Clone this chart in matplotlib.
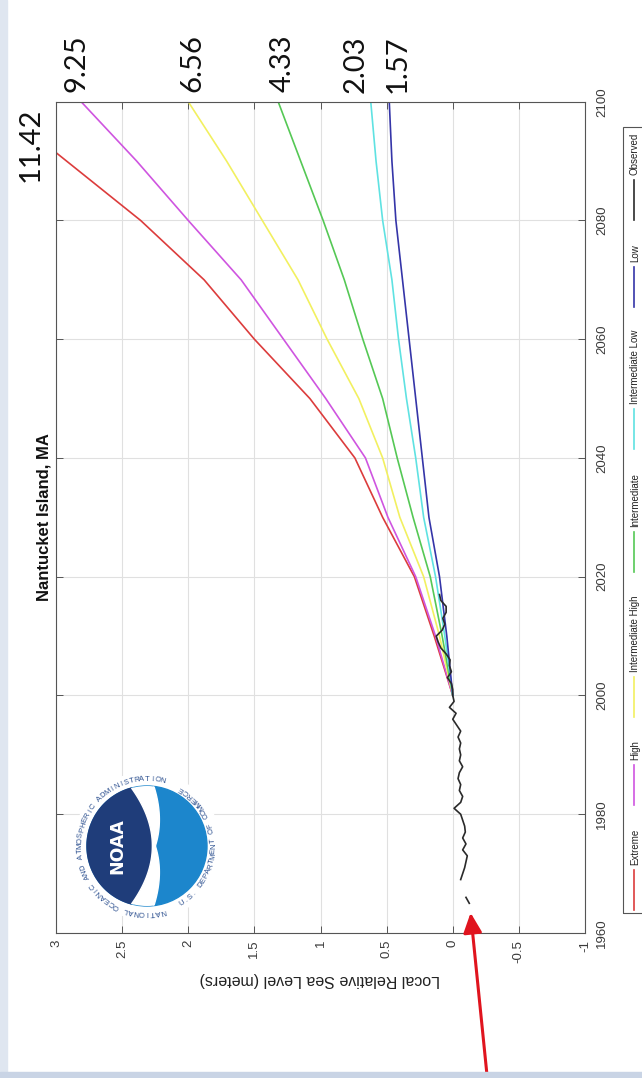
import numpy as np
import matplotlib
matplotlib.use('Agg')
import matplotlib.pyplot as plt
from matplotlib.patches import Rectangle, Circle, Polygon
from matplotlib.lines import Line2D

plt.rcParams['font.family'] = ['Liberation Sans', 'DejaVu Sans']

W, H = 642, 1078

# scenario projections, metres relative to 2000
years = [2000, 2010, 2020, 2030, 2040, 2050, 2060, 2070, 2080, 2090, 2100]
extreme = [0, 0.14, 0.29, 0.53, 0.74, 1.08, 1.50, 1.88, 2.36, 2.92, 3.48]
high = [0, 0.13, 0.28, 0.49, 0.66, 0.96, 1.28, 1.60, 2.00, 2.39, 2.81]
int_high = [0, 0.10, 0.22, 0.40, 0.53, 0.71, 0.95, 1.17, 1.44, 1.71, 2.00]
intermediate = [0, 0.08, 0.17, 0.30, 0.42, 0.53, 0.68, 0.82, 0.98, 1.15, 1.32]
int_low = [0, 0.06, 0.13, 0.22, 0.28, 0.35, 0.41, 0.46, 0.53, 0.58, 0.62]
low = [0, 0.045, 0.10, 0.18, 0.23, 0.28, 0.33, 0.38, 0.43, 0.46, 0.48]

# observed annual mean (gap in 1967-68)
obs_years = list(range(1965, 2018))
obs_level = [-0.125, -0.10, np.nan, np.nan, -0.06, -0.075, -0.09, -0.10, -0.11, -0.075,
             -0.10, -0.075, -0.095, -0.09, -0.075, -0.06, -0.01, -0.06, -0.075, -0.05,
             -0.06, -0.04, -0.05, -0.075, -0.05, -0.06, -0.05, -0.06, -0.04, -0.06,
             -0.03, 0.0, -0.025, 0.025, -0.01, 0.0, 0.0, 0.01, 0.04, 0.01,
             0.025, 0.02, 0.05, 0.09, 0.11, 0.125, 0.08, 0.06, 0.075, 0.05,
             0.05, 0.09, 0.10]

names = ['Extreme', 'High', 'Intermediate High', 'Intermediate', 'Intermediate Low', 'Low']
series = [extreme, high, int_high, intermediate, int_low, low]
colors = ['#dc3c3c', '#cf55e0', '#f2f060', '#55c855', '#5fe2e2', '#3535a8']
obs_color = '#2a2a2a'

# 2100 values in feet written above the chart
ft_labels = ['11.42', '9.25', '6.56', '4.33', '2.03', '1.57']
ft_pos = [(31, 182), (76, 92), (192, 92), (283, 92), (356, 93), (398, 93)]

level_ticks = [-1, -0.5, 0, 0.5, 1, 1.5, 2, 2.5, 3]
level_labels = ['-1', '-0.5', '0', '0.5', '1', '1.5', '2', '2.5', '3']
year_ticks = [1960, 1980, 2000, 2020, 2040, 2060, 2080, 2100]


def fx(x):
    return x / W


def fy(y):
    return 1 - y / H


fig = plt.figure(figsize=(W / 100, H / 100), dpi=100)
fig.patch.set_facecolor('white')

# slide border strips
fig.patches.append(Rectangle((0, 0), fx(7), 1, transform=fig.transFigure,
                             color='#dfe6f0', zorder=0))
fig.patches.append(Rectangle((0, 0), 1, 6 / H, transform=fig.transFigure,
                             color='#c9d4e5', zorder=0))

# main axes: sea level horizontal (reversed), years vertical
ax = fig.add_axes([fx(56), fy(933), fx(585) - fx(56), fy(101.7) - fy(933)])
for s, c in zip(series, colors):
    ax.plot(s, years, color=c, lw=1.2)
ax.plot(obs_level, obs_years, color=obs_color, lw=1.2)

ax.set_xlim(3, -1)
ax.set_ylim(1960, 2100)
ax.set_xticks(level_ticks)
ax.set_xticklabels(level_labels, rotation=90, fontsize=9.5, color='#3a3a3a')
ax.set_yticks(year_ticks)
ax.set_yticklabels([str(y) for y in year_ticks], rotation=90, fontsize=9.5,
                   color='#3a3a3a', va='center')
ax.tick_params(direction='in', top=True, bottom=True, left=True, right=True,
               labelleft=False, labelright=True, length=5, width=0.7, color='#555555')
ax.tick_params(axis='x', pad=5)
ax.tick_params(axis='y', pad=8)
ax.grid(True, color='#e0e0e0', lw=0.8)
ax.set_axisbelow(True)
for sp in ax.spines.values():
    sp.set_color('#555555')
    sp.set_linewidth(0.8)

fig.text(fx(320), fy(980), 'Local Relative Sea Level (meters)', rotation=180,
         ha='center', va='center', fontsize=11.5, color='#222222')
fig.text(fx(44), fy(517), 'Nantucket Island, MA', rotation=90, ha='center',
         va='center', fontsize=12, fontweight='bold', color='#111111')

for lab, (x, y) in zip(ft_labels, ft_pos):
    fig.text(fx(x), fy(y), lab, rotation=90, ha='center', va='bottom', fontsize=21,
             family=['Lato', 'DejaVu Sans'], color='#111111')

# legend drawn by hand, running bottom to top
fig.patches.append(Rectangle((fx(623), fy(913)), fx(660) - fx(623), fy(127) - fy(913),
                             transform=fig.transFigure, fill=False, ec='#555555', lw=0.8))
leg_names = names + ['Observed']
leg_colors = colors + [obs_color]
renderer = fig.canvas.get_renderer()
leg_texts = []
for n in leg_names:
    t = fig.text(fx(635), 0.5, n, rotation=90, ha='center', va='bottom',
                 fontsize=7, color='#222222')
    leg_texts.append(t)
lens = [t.get_window_extent(renderer).height for t in leg_texts]
line_len, g1, pad_b, pad_t = 40, 5, 3, 6
g2 = (913 - 127 - pad_b - pad_t - len(leg_names) * (line_len + g1) - sum(lens)) / (len(leg_names) - 1)
y = 913 - pad_b
for t, c, ln in zip(leg_texts, leg_colors, lens):
    fig.add_artist(Line2D([fx(634), fx(634)], [fy(y), fy(y - line_len)],
                          transform=fig.transFigure, color=c, lw=1.2))
    y -= line_len + g1
    t.set_position((fx(635), fy(y)))
    y -= ln + g2

# red arrow pointing at the start of the record
ax.annotate('', xy=(-0.135, 1963.4), xycoords='data',
            xytext=(fx(488), fy(1085)), textcoords='figure fraction',
            arrowprops=dict(arrowstyle='-|>,head_length=0.6,head_width=0.28',
                            color='#e0141e', lw=2.2, mutation_scale=20,
                            shrinkA=0, shrinkB=0),
            annotation_clip=False)

# NOAA logo (rotated like the rest of the slide)
lax = fig.add_axes([fx(147 - 75), fy(846 + 75), fx(150), 150 / H])
lax.set_xlim(-1, 1)
lax.set_ylim(-1, 1)
lax.axis('off')
lax.add_patch(Circle((0, 0), 0.98, color='white', zorder=0))
disk = Circle((0, 0), 0.80, color='#1c86cc', zorder=1)
lax.add_patch(disk)

P0 = np.array([-0.207, 0.773])
P1 = np.array([0.35, 0.0])
P2 = np.array([-0.207, -0.773])
tt = np.linspace(0, 1, 80)[:, None]
B = (1 - tt) ** 2 * P0 + 2 * (1 - tt) * tt * P1 + tt ** 2 * P2
T = 2 * (1 - tt) * (P1 - P0) + 2 * tt * (P2 - P1)
nrm = np.column_stack([-T[:, 1], T[:, 0]]) / np.linalg.norm(T, axis=1)[:, None]
w = 0.04 + 0.26 * np.abs(2 * tt[:, 0] - 1)
Bo = B + nrm * w[:, None]

ang = np.radians(np.linspace(105, 255, 60))
arc = np.column_stack([0.8 * np.cos(ang), 0.8 * np.sin(ang)])
navy = Polygon(np.vstack([arc, B[::-1]]), closed=True, color='#1f3d7a', zorder=2)
lax.add_patch(navy)
white = Polygon(np.vstack([B, Bo[::-1]]), closed=True, color='white', zorder=3)
lax.add_patch(white)
white.set_clip_path(disk)
lax.text(-0.40, 0, 'NOAA', rotation=90, color='white', fontsize=12.5, fontweight='bold',
         ha='center', va='center', family='DejaVu Sans', zorder=4)

ring_a = 'NATIONAL OCEANIC AND ATMOSPHERIC ADMINISTRATION'
ring_b = 'U.S. DEPARTMENT OF COMMERCE'
step = 4.5
for i, ch in enumerate(ring_a):
    th = 180 + (len(ring_a) - 1) / 2 * step - i * step
    r = np.radians(th)
    lax.text(0.89 * np.cos(r), 0.89 * np.sin(r), ch, rotation=th - 90,
             rotation_mode='anchor', ha='center', va='center', fontsize=5.5,
             color='#2b4f8f')
for i, ch in enumerate(ring_b):
    th = -(len(ring_b) - 1) / 2 * step + i * step
    r = np.radians(th)
    lax.text(0.89 * np.cos(r), 0.89 * np.sin(r), ch, rotation=th + 90,
             rotation_mode='anchor', ha='center', va='center', fontsize=5.5,
             color='#2b4f8f')

fig.savefig('out.png', dpi=100)
